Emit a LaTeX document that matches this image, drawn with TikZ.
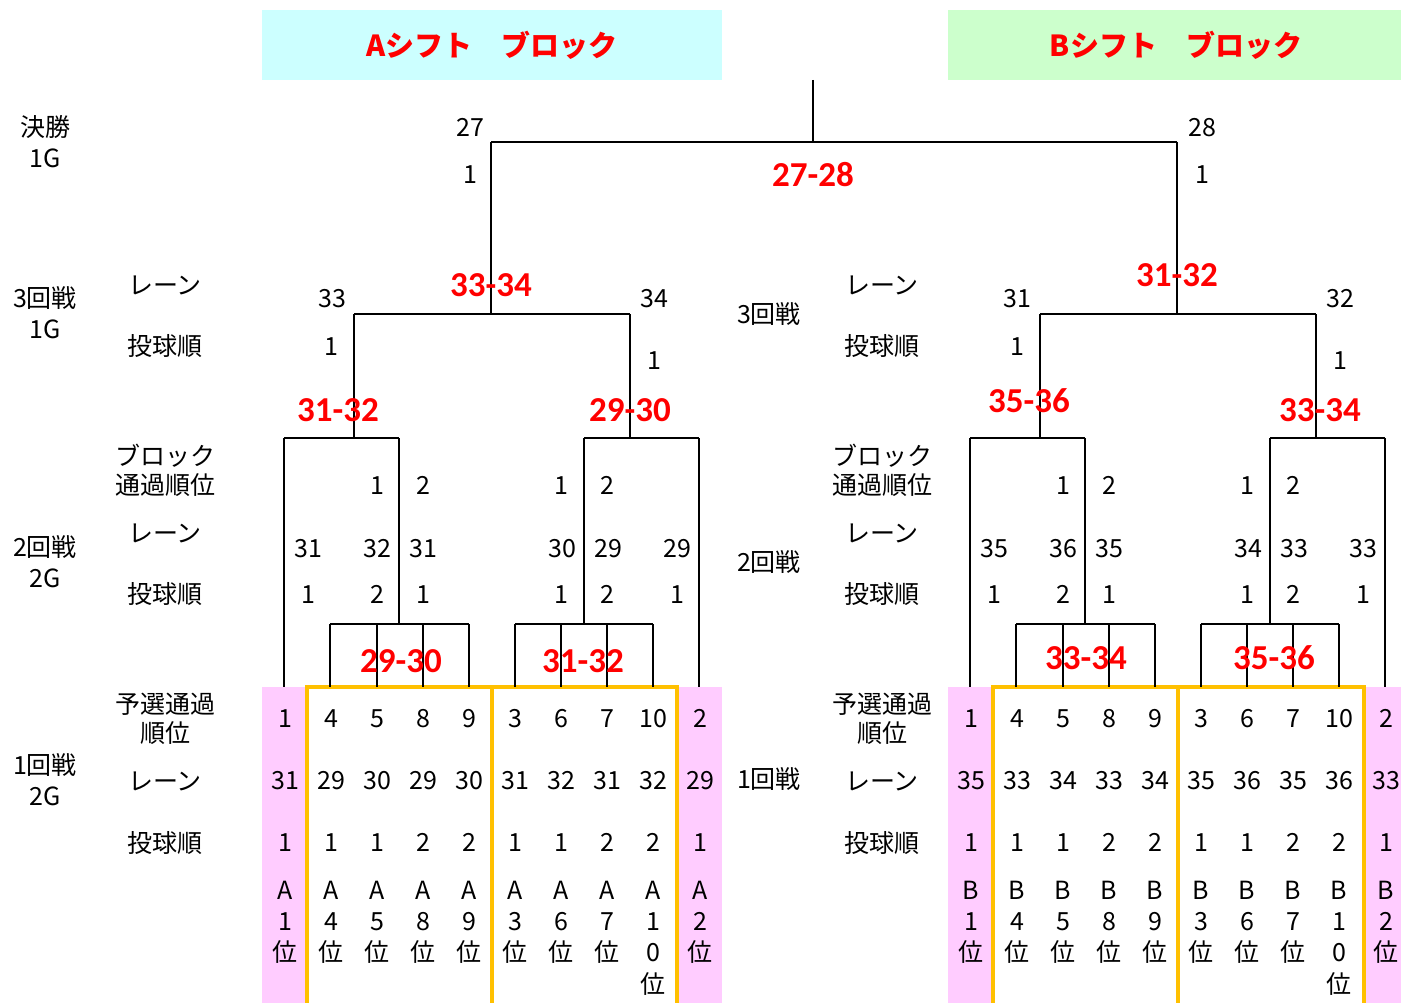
\documentclass[tikz,border=0pt]{standalone}
\usepackage{fontspec}
\setmainfont{Noto Sans CJK JP}
\newfontfamily\redf{Carlito}
\definecolor{acyan}{HTML}{CCFFFF}
\definecolor{bgreen}{HTML}{CCFFCC}
\definecolor{pinkc}{HTML}{FFCCFF}
\definecolor{yelc}{HTML}{FFC000}
\begin{document}
\begin{tikzpicture}[x=1pt,y=-1pt,
  lab/.style={inner sep=0pt, text height=0.73em, text depth=0pt, yshift=-5.5pt, font=\fontsize{25}{27}\selectfont},
  redlbl/.style={inner sep=0pt, text=red, font=\redf\bfseries\fontsize{35}{37}\selectfont},
  hdr/.style={inner sep=0pt, text=red, font=\bfseries\fontsize{29}{31}\selectfont},
  ln/.style={line width=2.5pt, black},
  yl/.style={line width=4pt, yelc}]
\useasboundingbox (0,0) rectangle (1401,1003);
% headers
\fill[acyan] (262,10) rectangle (722,80);
\fill[bgreen] (948,10) rectangle (1401,80);
\node[hdr] (hA) at (492,45) {Aシフト　ブロック};
\node[hdr] (hB) at (1176,45) {Bシフト　ブロック};
% pink columns
\fill[pinkc] (262,687) rectangle (307,1003);
\fill[pinkc] (677,687) rectangle (722,1003);
\fill[pinkc] (948,687) rectangle (993,1003);
\fill[pinkc] (1364,687) rectangle (1401,1003);
% yellow boxes
\draw[yl] (307,1003) -- (307,687) -- (677,687) -- (677,1003);
\draw[yl] (492,687) -- (492,1003);
\draw[yl] (993,1003) -- (993,687) -- (1364,687) -- (1364,1003);
\draw[yl] (1178,687) -- (1178,1003);
% final
\coordinate (top) at (813,80);
\coordinate (fj) at (813,142);
\coordinate (fL) at (491,142);
\coordinate (fR) at (1177,142);
\draw[ln] (top) -- (fj);
\draw[ln] (fL) -- (fR);
\foreach \s/\o in {A/0,B/686}{
  \coordinate (\s3) at (\o+491,314);
  \coordinate (\s3L) at (\o+354,314);
  \coordinate (\s3R) at (\o+630,314);
  \coordinate (\s2Lt) at (\o+354,438);
  \coordinate (\s2La) at (\o+284,438);
  \coordinate (\s2Lb) at (\o+399,438);
  \coordinate (\s2Lbb) at (\o+399,624);
  \coordinate (\s1La) at (\o+330,624);
  \coordinate (\s1Lb) at (\o+469,624);
  \coordinate (\s2Rt) at (\o+630,438);
  \coordinate (\s2Ra) at (\o+584,438);
  \coordinate (\s2Rb) at (\o+699,438);
  \coordinate (\s2Raa) at (\o+584,624);
  \coordinate (\s1Ra) at (\o+515,624);
  \coordinate (\s1Rb) at (\o+653,624);
  \draw[ln] (\s3L) -- (\s3R);
  \draw[ln] (\s3L) -- (\s2Lt);
  \draw[ln] (\s3R) -- (\s2Rt);
  \draw[ln] (\s2La) -- (\s2Lb);
  \draw[ln] (\s2Ra) -- (\s2Rb);
  \draw[ln] (\s2Lb) -- (\s2Lbb);
  \draw[ln] (\s2Ra) -- (\s2Raa);
  \draw[ln] (\s1La) -- (\s1Lb);
  \draw[ln] (\s1Ra) -- (\s1Rb);
  \draw[ln] (\s2La) -- (\o+284,687);
  \draw[ln] (\s2Rb) -- (\o+699,687);
  \foreach \x in {330,377,423,469}{\draw[ln] (\o+\x,624) -- (\o+\x,687);}
  \foreach \x in {515,561,607,653}{\draw[ln] (\o+\x,624) -- (\o+\x,687);}
}
\draw[ln] (fL) -- (A3);
\draw[ln] (fR) -- (B3);
% final labels
\node[lab] (n27) at (470,127) {27};
\node[lab] (n27o) at (470,174) {1};
\node[lab] (n28) at (1202,127) {28};
\node[lab] (n28o) at (1202,174) {1};
\node[redlbl] (m2728) at (813,175) {27-28};
% round 3 labels
\node[lab] (a33) at (332,298) {33};
\node[lab] (a33o) at (331,346) {1};
\node[lab] (a34) at (654,298) {34};
\node[lab] (a34o) at (654,360) {1};
\node[lab] (b31) at (1017,298) {31};
\node[lab] (b31o) at (1017,346) {1};
\node[lab] (b32) at (1340,298) {32};
\node[lab] (b32o) at (1340,360) {1};
% red match labels
\node[redlbl] (ma1) at (491,285) {33-34};
\node[redlbl] (ma2) at (338,410) {31-32};
\node[redlbl] (ma3) at (630,410) {29-30};
\node[redlbl] (ma4) at (401,661) {29-30};
\node[redlbl] (ma5) at (583,661) {31-32};
\node[redlbl] (mb1) at (1177,275) {31-32};
\node[redlbl] (mb2) at (1029,401) {35-36};
\node[redlbl] (mb3) at (1320,410) {33-34};
\node[redlbl] (mb4) at (1086,658) {33-34};
\node[redlbl] (mb5) at (1274,658) {35-36};
% round 2 numbers
\foreach \s/\o/\la/\lb/\lc/\ld/\le/\lf in {A/0/31/32/31/30/29/29, B/686/35/36/35/34/33/33}{
  \node[lab] (\s br1) at (\o+377,485) {1};
  \node[lab] (\s br2) at (\o+423,485) {2};
  \node[lab] (\s br3) at (\o+561,485) {1};
  \node[lab] (\s br4) at (\o+607,485) {2};
  \node[lab] (\s ln1) at (\o+308,548) {\la};
  \node[lab] (\s ln2) at (\o+377,548) {\lb};
  \node[lab] (\s ln3) at (\o+423,548) {\lc};
  \node[lab] (\s ln4) at (\o+562,548) {\ld};
  \node[lab] (\s ln5) at (\o+608,548) {\le};
  \node[lab] (\s ln6) at (\o+677,548) {\lf};
  \node[lab] (\s od1) at (\o+308,594) {1};
  \node[lab] (\s od2) at (\o+377,594) {2};
  \node[lab] (\s od3) at (\o+423,594) {1};
  \node[lab] (\s od4) at (\o+561,594) {1};
  \node[lab] (\s od5) at (\o+607,594) {2};
  \node[lab] (\s od6) at (\o+677,594) {1};
}
% row labels
\node[lab] (t1) at (45,127) {決勝};
\node[lab] (t1g) at (45,158) {1G};
\node[lab] (t3) at (45,298) {3回戦};
\node[lab] (t3g) at (45,329) {1G};
\node[lab] (t2) at (45,547) {2回戦};
\node[lab] (t2g) at (45,578) {2G};
\node[lab] (t0) at (45,765) {1回戦};
\node[lab] (t0g) at (45,796) {2G};
\node[lab] (u3) at (769,314) {3回戦};
\node[lab] (u2) at (769,562) {2回戦};
\node[lab] (u0) at (769,779) {1回戦};
\foreach \s/\x in {L/165, M/882}{
  \node[lab] (\s lane3) at (\x,285) {レーン};
  \node[lab] (\s ord3) at (\x,346) {投球順};
  \node[lab] (\s blk1) at (\x,456) {ブロック};
  \node[lab] (\s blk2) at (\x,485) {通過順位};
  \node[lab] (\s lane2) at (\x,533) {レーン};
  \node[lab] (\s ord2) at (\x,594) {投球順};
  \node[lab] (\s yos1) at (\x,704) {予選通過};
  \node[lab] (\s yos2) at (\x,733) {順位};
  \node[lab] (\s lane1) at (\x,781) {レーン};
  \node[lab] (\s ord1) at (\x,843) {投球順};
}
% round 1 table
\foreach \s/\o/\la/\lb/\lc/\ld/\le/\lf/\lg/\lh/\li/\lj in
  {A/0/31/29/30/29/30/31/32/31/32/29, B/686/35/33/34/33/34/35/36/35/36/33}{
  \foreach \x/\r/\l/\p [count=\i] in {285/1/\la/1, 331/4/\lb/1, 377/5/\lc/1, 423/8/\ld/2, 469/9/\le/2,
      515/3/\lf/1, 561/6/\lg/1, 607/7/\lh/2, 653/10/\li/2, 700/2/\lj/1}{
    \node[lab] (\s rk\i) at (\o+\x,718) {\r};
    \node[lab] (\s la\i) at (\o+\x,780) {\l};
    \node[lab] (\s po\i) at (\o+\x,842) {\p};
    \node[lab] (\s sh\i) at (\o+\x,890) {\s};
  }
  \foreach \x/\r [count=\i] in {285/1, 331/4, 377/5, 423/8, 469/9, 515/3, 561/6, 607/7, 700/2}{
    \node[lab] (\s vd\i) at (\o+\x,921) {\r};
    \node[lab] (\s vi\i) at (\o+\x,952) {位};
  }
  \node[lab] (\s tenA) at (\o+653,921) {1};
  \node[lab] (\s tenB) at (\o+653,952) {0};
  \node[lab] (\s tenC) at (\o+653,984) {位};
}
\end{tikzpicture}
\end{document}
